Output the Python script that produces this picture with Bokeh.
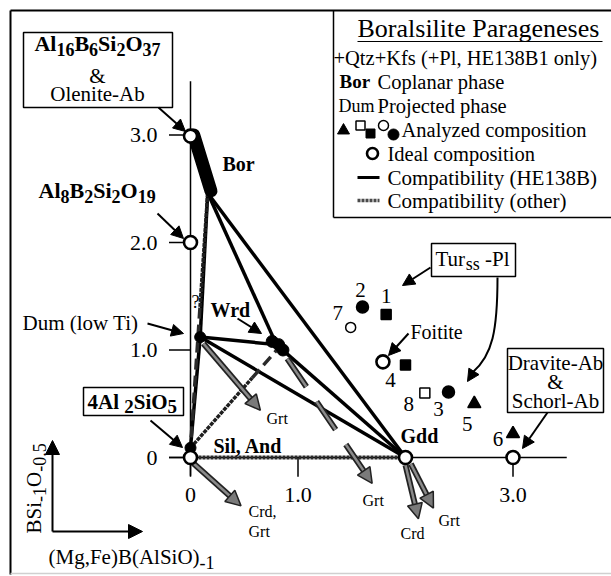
import math
from bokeh.plotting import figure
from bokeh.models import Range1d, Label, Arrow, NormalHead, ColumnDataSource
from bokeh.embed import file_html
from bokeh.resources import INLINE

# ---------------- data ----------------
phase_names = ["Bor", "Dum", "Wrd", "Gdd", "Sil"]
phase_x = [0.16, 0.09, 0.80, 2.00, 0.00]
phase_y = [2.46, 1.12, 1.05, 0.00, 0.09]

bor_x = [0.03, 0.19]          # elongated boralsilite field
bor_y = [3.00, 2.48]
dum_x = [0.09]
dum_y = [1.12]
wrd_x = [0.76, 0.82, 0.86]
wrd_y = [1.08, 1.05, 1.00]
sil_x = [0.00]
sil_y = [0.09]

ties_he138b = [("Bor", "Dum"), ("Bor", "Wrd"), ("Bor", "Gdd"), ("Dum", "Wrd"),
               ("Dum", "Gdd"), ("Wrd", "Gdd"), ("Dum", "Sil")]
other_x0 = [0.00, 0.16, 0.00]
other_y0 = [0.00, 2.46, 0.09]
other_x1 = [2.00, 0.00, 0.82]
other_y1 = [0.00, 0.09, 1.02]
other_uncertain_from = [None, 0.45, 0.70]   # fraction of the tie drawn dashed (uncertain)

ideal_names = ["4Al2SiO5", "Al8B2Si2O19", "Al16B6Si2O37", "Gdd", "Dravite", "Foitite"]
ideal_x = [0.00, 0.00, 0.00, 2.00, 3.00, 1.79]
ideal_y = [0.00, 2.00, 2.99, 0.00, 0.00, 0.89]

tur_ids = ["1", "2", "3", "4", "5", "6", "7", "8"]
tur_x = [1.82, 1.60, 2.40, 2.00, 2.64, 3.00, 1.49, 2.18]
tur_y = [1.33, 1.40, 0.61, 0.86, 0.50, 0.22, 1.21, 0.60]
tur_marker = ["square", "circle", "circle", "square", "triangle", "triangle", "circle", "square"]
tur_filled = [True, True, True, True, True, True, False, False]

vec_labels = ["Crd,", "Grt", "Grt", "Crd", "Grt"]
vec_x0 = [0.00, 0.12, 0.90, 2.00, 2.05]
vec_y0 = [-0.03, 1.06, 0.92, -0.07, -0.06]
vec_x1 = [0.47, 0.65, 1.69, 2.12, 2.26]
vec_y1 = [-0.45, 0.44, -0.24, -0.57, -0.47]
vec_dashed = [False, False, True, False, False]

x_ticks = [0.0, 1.0, 3.0]
x_tick_labels = ["0", "1.0", "3.0"]
y_ticks = [0.0, 1.0, 2.0, 3.0]
y_tick_labels = ["0", "1.0", "2.0", "3.0"]
axis_max = 3.5

# ---------------- layout helpers ----------------
SC = 107.5             # px per unit
OX, OY = 190.0, 457.0  # page px of the origin
L, T, W, H = 0, 0, 611, 576


def px(X):
    return (X - OX) / SC


def py(Y):
    return (OY - Y) / SC


p = figure(width=W, height=H, x_range=Range1d(px(L), px(L + W)),
           y_range=Range1d(py(T + H), py(T)), x_axis_type=None, y_axis_type=None,
           toolbar_location=None, output_backend="svg", min_border=0,
           outline_line_color=None, background_fill_color="white")

FONT = "Liberation Serif"
REG = {'A': 722, 'B': 667, 'C': 667, 'D': 722, 'E': 611, 'F': 556, 'G': 722, 'H': 722,
       'I': 333, 'K': 722, 'L': 611, 'M': 889, 'N': 722, 'O': 722, 'P': 556, 'Q': 722,
       'R': 667, 'S': 556, 'T': 611, 'W': 944, 'a': 444, 'b': 500, 'c': 444, 'd': 500,
       'e': 444, 'f': 333, 'g': 500, 'h': 500, 'i': 278, 'j': 278, 'k': 500, 'l': 278,
       'm': 778, 'n': 500, 'o': 500, 'p': 500, 'r': 333, 's': 389, 't': 278, 'u': 500,
       'v': 500, 'w': 722, 'y': 500, 'z': 444, ' ': 250, '(': 333, ')': 333, ',': 250,
       '.': 250, '-': 333, '+': 564, '&': 778, '?': 444}
BOLD = {'A': 722, 'B': 667, 'D': 722, 'G': 778, 'O': 778, 'S': 556, 'W': 1000, 'l': 278,
        'i': 278, 'r': 444, 'o': 500, 'd': 556, 'n': 556, 'u': 556, 'm': 833, ' ': 250,
        ',': 250, '&': 833}


def tw(s, size, bold=False):
    tot = 0
    for c in s:
        if c.isdigit():
            tot += 500
        elif bold and c in BOLD:
            tot += BOLD[c]
        else:
            tot += REG.get(c, 500)
    return tot * size / 1000.0


def lab(X, Y, text, size, bold=False, align="left", angle=0.0):
    p.add_layout(Label(x=px(X), y=py(Y), text=text, text_font=FONT,
                       text_font_size=f"{size}px",
                       text_font_style="bold" if bold else "normal",
                       text_align=align, text_baseline="middle", angle=angle,
                       text_color="black"))


def rich(X, Y, runs, size, sub_size, bold=False, align="left", vertical=False, shift=6):
    widths = [tw(t, sub_size if sub else size, bold) for t, sub in runs]
    total = sum(widths)
    d = {"left": 0.0, "center": -total / 2.0, "right": -total}[align]
    for (t, sub), w in zip(runs, widths):
        sz = sub_size if sub else size
        lead = len(t) - len(t.lstrip(" "))
        dd = d + tw(" " * lead, sz, bold)
        perp = shift if sub else 0.0
        if vertical:
            x, y = X + perp, Y - dd
        else:
            x, y = X + dd, Y + perp
        lab(x, y, t.strip(" "), sz, bold=bold, align="left",
            angle=(math.pi / 2 if vertical else 0.0))
        d += w


def box(x0, y0, x1, y1, lw=1.5):
    p.quad(left=px(x0), right=px(x1), top=py(y0), bottom=py(y1),
           fill_color="white", line_color="black", line_width=lw)


def pline(xs, ys, **kw):
    p.line([px(v) for v in xs], [py(v) for v in ys], **kw)


def parrow(x0, y0, x1, y1, size=12, lw=2):
    p.add_layout(Arrow(end=NormalHead(size=size, fill_color="black", line_color="black"),
                       x_start=px(x0), y_start=py(y0), x_end=px(x1), y_end=py(y1),
                       line_color="black", line_width=lw))


# ---------------- frame ----------------
pline([10, 611], [10, 10], line_color="black", line_width=2)
pline([10, 10], [10, 574], line_color="black", line_width=2)
pline([10, 611], [573, 573], line_color="#d0d0d0", line_width=1.5)

# ---------------- axes through the origin ----------------
p.line([0, 0], [-0.17, axis_max], line_color="black", line_width=1.5)
p.line([-0.2, axis_max], [0, 0], line_color="black", line_width=1.5)
for v in y_ticks:
    p.line([-0.2, 0], [v, v], line_color="black", line_width=1.5)
for v in x_ticks:
    p.line([v, v], [0, -0.18], line_color="black", line_width=1.5)
for v, t in zip(y_ticks, y_tick_labels):
    p.add_layout(Label(x=0, y=v, x_offset=-33, text=t, text_font=FONT, text_color="black",
                       text_font_size="22px", text_align="right", text_baseline="middle"))
for v, t in zip(x_ticks, x_tick_labels):
    p.add_layout(Label(x=v, y=0, y_offset=-37, text=t, text_font=FONT, text_color="black",
                       text_font_size="22px", text_align="center", text_baseline="middle"))

# ---------------- compatibility ties ----------------
pos = {n: (x, y) for n, x, y in zip(phase_names, phase_x, phase_y)}
for a, b in ties_he138b:
    p.line([pos[a][0], pos[b][0]], [pos[a][1], pos[b][1]], line_color="black",
           line_width=3.5)
for x0, y0, x1, y1, fr in zip(other_x0, other_y0, other_x1, other_y1,
                              other_uncertain_from):
    if fr is None:
        p.line([x0, x1], [y0, y1], line_color="#2a2a2a", line_width=4, line_dash="3 1")
    else:
        xm, ym = x0 + fr * (x1 - x0), y0 + fr * (y1 - y0)
        p.line([x0, xm], [y0, ym], line_color="#1e1e1e", line_width=3.5, line_dash="4 1")
        p.line([xm, x1], [ym, y1], line_color="#2a2a2a", line_width=3.5, line_dash="11 6")

# ---------------- reaction vectors (grey arrows) ----------------
for x0, y0, x1, y1, dsh in zip(vec_x0, vec_y0, vec_x1, vec_y1, vec_dashed):
    dx, dy = x1 - x0, y1 - y0
    ln = math.hypot(dx, dy)
    ux, uy = dx / ln, dy / ln
    cut = 10.0 / SC
    ex, ey = x1 - ux * cut, y1 - uy * cut
    dash = "34 18" if dsh else "solid"
    p.line([x0, ex], [y0, ey], line_color="#222222", line_width=6, line_dash=dash)
    p.line([x0, ex], [y0, ey], line_color="#8a8a8a", line_width=2.5, line_dash=dash)
    p.add_layout(Arrow(end=NormalHead(size=15, fill_color="#7a7a7a", line_color="#222222",
                                      line_width=1.5),
                       x_start=x1 - ux * 0.02, y_start=y1 - uy * 0.02, x_end=x1, y_end=y1,
                       line_color=None))
lab(248, 511, "Crd,", 16)
lab(248, 531, "Grt", 16)
lab(266, 418, "Grt", 16)
lab(362, 500, "Grt", 16)
lab(400, 533, "Crd", 16)
lab(438, 520, "Grt", 16)

# ---------------- phases ----------------
p.line(bor_x, bor_y, line_color="black", line_width=13, line_cap="round")
p.scatter(dum_x, dum_y, marker="circle", size=11, fill_color="black", line_color="black")
p.scatter(sil_x, sil_y, marker="circle", size=11, fill_color="black", line_color="black")
p.scatter(wrd_x, wrd_y, marker="circle", size=12, fill_color="black", line_color="black")

tsrc = ColumnDataSource(dict(
    x=tur_x, y=tur_y, marker=tur_marker,
    fill=["black" if f else "white" for f in tur_filled],
    size=[{"circle": 12, "square": 10, "triangle": 13}[m] if f else 10
          for m, f in zip(tur_marker, tur_filled)]))
p.scatter(x="x", y="y", marker="marker", size="size", fill_color="fill",
          line_color="black", line_width=1.5, source=tsrc)

num_off = {"1": (0, 19), "2": (-2, 17), "3": (-10, -17), "4": (-15, -15),
           "5": (-7, -20), "6": (-15, -5), "7": (-13, 14), "8": (-16, -11)}
for i, x, y in zip(tur_ids, tur_x, tur_y):
    ox, oy = num_off[i]
    p.add_layout(Label(x=x, y=y, x_offset=ox, y_offset=oy, text=i, text_font=FONT,
                       text_font_size="21px", text_align="center", text_color="black",
                       text_baseline="middle"))

p.scatter(ideal_x, ideal_y, marker="circle", size=13, fill_color="white",
          line_color="black", line_width=2.6)

# ---------------- phase labels ----------------
lab(222, 163, "Bor", 20, bold=True)
lab(210, 309, "Wrd", 20, bold=True)
lab(400, 435, "Gdd", 20, bold=True)
lab(213, 445, "Sil, And", 20, bold=True)
lab(191, 301, "?", 18)
lab(22, 322, "Dum (low Ti)", 21)
lab(410, 331, "Foitite", 20)
rich(38, 190, [("Al", 0), ("8", 1), ("B", 0), ("2", 1), ("Si", 0), ("2", 1), ("O", 0),
               ("19", 1)], 22, 18, bold=True, shift=6)

# ---------------- boxes ----------------
box(23, 32, 172, 107)
rich(97, 43, [("Al", 0), ("16", 1), ("B", 0), ("6", 1), ("Si", 0), ("2", 1), ("O", 0),
              ("37", 1)], 22, 18, bold=True, align="center", shift=6)
lab(97, 75, "&", 21, align="center")
lab(97, 93, "Olenite-Ab", 21, align="center")

box(83, 387, 183, 415)
rich(87, 401, [("4Al ", 0), ("2", 1), ("SiO", 0), ("5", 1)], 21, 19, bold=True, shift=5)

box(431, 243, 515, 276)
rich(435, 258, [("Tur", 0), ("ss", 1), (" -Pl", 0)], 21, 18, shift=5)

box(507, 348, 603, 412)
lab(555, 362, "Dravite-Ab", 21, align="center")
lab(555, 381, "&", 21, align="center")
lab(555, 400, "Schorl-Ab", 21, align="center")

# ---------------- pointer arrows ----------------
parrow(158, 107, 185, 131)
parrow(157, 213, 183, 238)
parrow(147, 323, 183, 333)
parrow(237, 318, 261, 333)
parrow(150, 420, 182, 447)
parrow(430, 267, 402, 285)
parrow(408, 333, 388, 355)
parrow(547, 412, 522, 448)
p.bezier(x0=[px(497)], y0=[py(277)], x1=[px(472)], y1=[py(372)],
         cx0=[px(497)], cy0=[py(330)], cx1=[px(492)], cy1=[py(355)],
         line_color="black", line_width=2)
parrow(474, 370, 467, 381, size=12, lw=0.01)

# ---------------- axis-direction key ----------------
parrow(52, 531, 52, 440, size=14, lw=2)
parrow(52, 531, 142, 531, size=14, lw=2)
rich(33, 533, [("BSi", 0), ("-1", 1), ("O", 0), ("-0.5", 1)], 21, 18, vertical=True,
     shift=6)
rich(48, 556, [("(Mg,Fe)B(AlSiO)", 0), ("-1", 1)], 21, 18, shift=6)

# ---------------- legend ----------------
pline([333, 333], [10, 217], line_color="black", line_width=1.5)
pline([333, 611], [217, 217], line_color="black", line_width=1.5)
lab(357, 28, "Boralsilite Parageneses", 26)
pline([357, 602], [41, 41], line_color="black", line_width=1.2)
lab(333, 57, "+Qtz+Kfs (+Pl, HE138B1 only)", 20.5)
lab(339, 81, "Bor", 19, bold=True)
lab(377, 81, "Coplanar phase", 20.5)
lab(338, 105, "Dum", 18)
lab(377, 105, "Projected phase", 20.5)
RA = 129
p.scatter([px(343)], [py(RA + 1)], marker="triangle", size=12, fill_color="black",
          line_color="black")
p.scatter([px(360)], [py(RA - 4)], marker="square", size=9, fill_color="white",
          line_color="black", line_width=1.5)
p.scatter([px(370)], [py(RA + 4)], marker="square", size=9, fill_color="black",
          line_color="black")
p.scatter([px(383)], [py(RA - 4)], marker="circle", size=10, fill_color="white",
          line_color="black", line_width=1.5)
p.scatter([px(393)], [py(RA + 5)], marker="circle", size=11, fill_color="black",
          line_color="black")
lab(401, RA, "Analyzed composition", 20.5)
p.scatter([px(372)], [py(153)], marker="circle", size=11, fill_color="white",
          line_color="black", line_width=2.6)
lab(387, 153, "Ideal composition", 20.5)
pline([357, 379], [177, 177], line_color="black", line_width=3)
lab(387, 177, "Compatibility (HE138B)", 21)
pline([357, 379], [200, 200], line_color="#4a4a4a", line_width=3.5, line_dash="3 1")
lab(387, 200, "Compatibility (other)", 21)

open("out.html", "w").write(file_html(p, INLINE))
